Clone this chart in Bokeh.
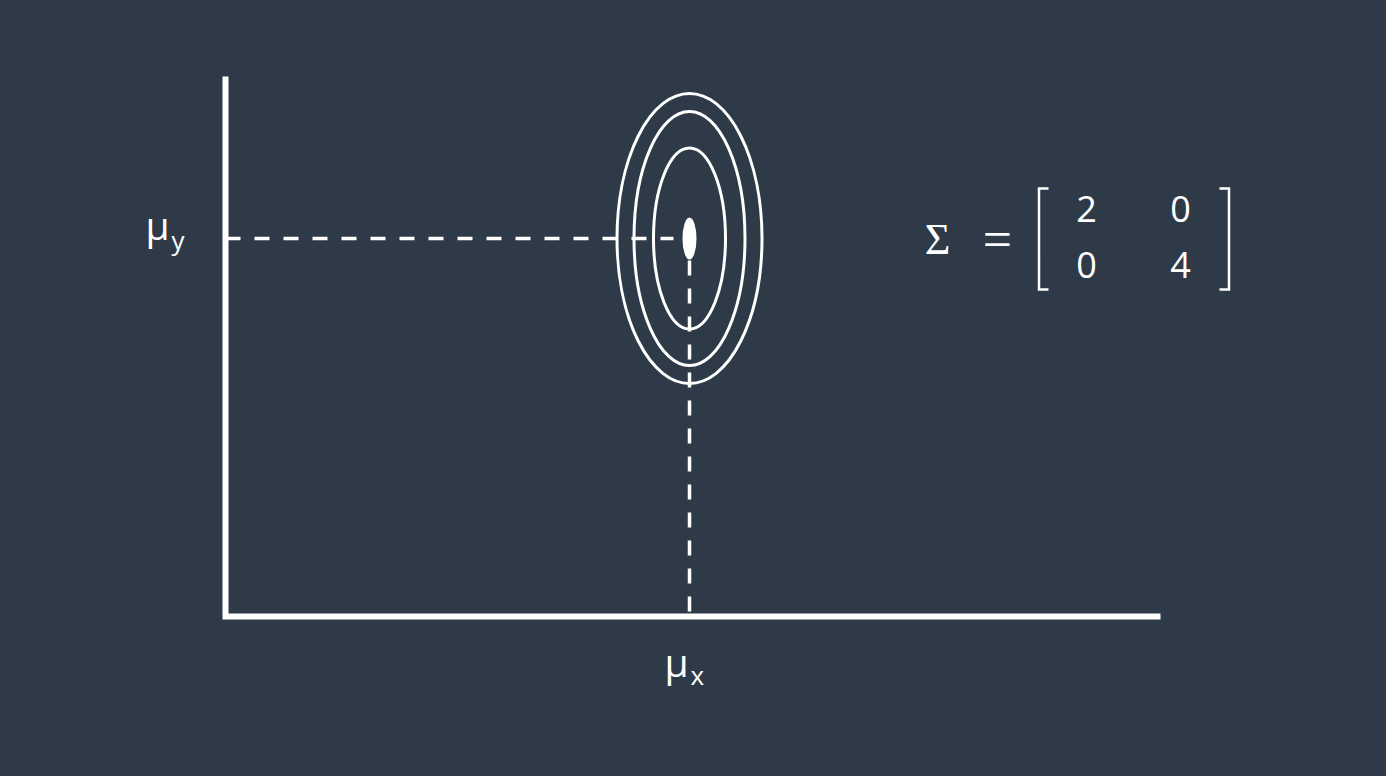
from bokeh.plotting import figure
from bokeh.core.properties import value
from bokeh.embed import file_html
from bokeh.resources import INLINE

BG = "#2e3a48"
FG = "#ffffff"

# ---- data (arbitrary units, origin at the axes corner) ----
mean_x = 464
mean_y = 378
contour_widths = [145, 111, 72]
contour_heights = [290, 254, 181]
dot_size = [14, 42]
axis_x_end = 935
axis_y_end = 540
cov_values = [["2", "0"], ["0", "4"]]
cov_row_y = [394, 338]
cov_col_x = [861, 955]

TY = 14  # baseline correction for text placement

p = figure(width=1386, height=776, x_range=(-225, 1161), y_range=(-160, 616),
           output_backend="svg", toolbar_location=None, min_border=0,
           x_axis_location=None, y_axis_location=None, title=None,
           background_fill_color=BG, border_fill_color=BG, outline_line_color=None)
p.xgrid.visible = False
p.ygrid.visible = False

# axes
p.line([0, 0, axis_x_end], [axis_y_end, 0, 0], line_color=FG, line_width=6,
       line_join="miter", line_cap="butt")

# dashed guides
p.line([0, mean_x - 16], [mean_y, mean_y], line_color=FG, line_width=3.5,
       line_dash="15 14")
p.line([mean_x, mean_x], [mean_y - 22, 0], line_color=FG, line_width=3.5,
       line_dash="15 13")

# contours
p.ellipse(x=[mean_x] * 3, y=[mean_y] * 3, width=contour_widths, height=contour_heights,
          fill_color=None, line_color=FG, line_width=3)
p.ellipse(x=[mean_x], y=[mean_y], width=[dot_size[0]], height=[dot_size[1]],
          fill_color=FG, line_color=None)

font = value("Open Sans")
# mu labels
p.text(x=[-80], y=[mean_y + TY], text=["μ"], text_font=font, text_font_size="39px",
       text_color=FG, text_baseline="alphabetic", text_align="left")
p.text(x=[-54], y=[mean_y - 15 + TY], text=["y"], text_font=font, text_font_size="26px",
       text_color=FG, text_baseline="alphabetic", text_align="left")
p.text(x=[mean_x - 25], y=[-59 + TY], text=["μ"], text_font=font, text_font_size="39px",
       text_color=FG, text_baseline="alphabetic", text_align="left")
p.text(x=[mean_x + 1], y=[-72 + TY], text=["x"], text_font=font, text_font_size="26px",
       text_color=FG, text_baseline="alphabetic", text_align="left")

# covariance matrix
p.text(x=[712], y=[363 + TY], text=["Σ"], text_font=value("Liberation Serif"),
       text_font_size="44px", text_color=FG, text_baseline="alphabetic", text_align="center")
p.text(x=[772], y=[363 + TY], text=["="], text_font=value("Liberation Serif"),
       text_font_size="52px", text_color=FG, text_baseline="alphabetic", text_align="center")
mx, my, mt = [], [], []
for r, row in enumerate(cov_values):
    for c, v in enumerate(row):
        mx.append(cov_col_x[c]); my.append(cov_row_y[r] + TY); mt.append(v)
p.text(x=mx, y=my, text=mt, text_font=font, text_font_size="36px", text_color=FG,
       text_baseline="alphabetic", text_align="center")

# brackets
lx = cov_col_x[0] - 47.5
rx = cov_col_x[1] + 48.5
top = cov_row_y[0] + 34
bot = cov_row_y[1] - 11
p.line([lx + 9.5, lx, lx, lx + 9.5], [top, top, bot, bot], line_color=FG, line_width=2.5,
       line_join="miter")
p.line([rx - 9.5, rx, rx, rx - 9.5], [top, top, bot, bot], line_color=FG, line_width=2.5,
       line_join="miter")

tpl = "{% block preamble %}<style>html, body { background-color: " + BG + "; }</style>{% endblock %}"
open("out.html", "w").write(file_html(p, INLINE, template=tpl))
